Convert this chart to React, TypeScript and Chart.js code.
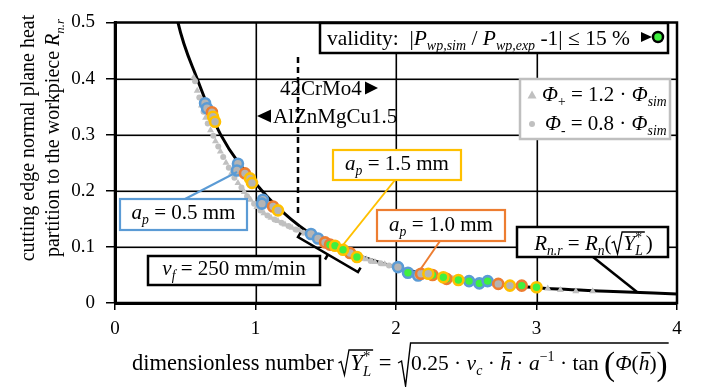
import React, { useEffect, useRef } from 'react';
import { Chart, registerables } from 'chart.js';
Chart.register(...registerables);

const SERIF = "'Liberation Serif', 'Times New Roman', serif";

// ---- data ----
const xTickLabels = ['0', '1', '2', '3', '4'];
const yTickLabels = ['0', '0.1', '0.2', '0.3', '0.4', '0.5'];
const xGridValues = [1, 2, 3];
const yGridValues = [0.1, 0.2, 0.3, 0.4];

const curveX = [0.42, 0.448, 0.584, 0.752, 1.046, 1.25, 1.5, 1.75, 2.0, 2.25, 2.5, 2.75, 3.0, 3.5, 4.0];
const curveY = [0.54, 0.5, 0.4, 0.3, 0.2, 0.15, 0.107, 0.083, 0.064, 0.05, 0.04, 0.033, 0.027, 0.021, 0.016];

const phiPlus: [number, number][] = [
  [0.56, 0.402], [0.585, 0.378], [0.615, 0.352], [0.645, 0.33], [0.68, 0.308], [0.715, 0.288],
  [0.75, 0.27], [0.79, 0.25], [0.83, 0.232], [0.875, 0.214], [0.92, 0.198], [0.965, 0.184],
  [1.01, 0.171], [1.06, 0.16], [1.11, 0.152], [1.16, 0.146], [1.21, 0.14], [1.26, 0.134],
  [1.31, 0.129], [1.79, 0.078], [1.85, 0.073], [1.92, 0.069], [1.98, 0.066],
  [3.08, 0.026], [3.17, 0.023], [3.28, 0.021], [3.4, 0.021],
];
const phiMinus: [number, number][] = [
  [0.57, 0.395], [0.6, 0.366], [0.63, 0.341], [0.66, 0.32], [0.7, 0.298], [0.735, 0.279],
  [0.77, 0.26], [0.81, 0.241], [0.85, 0.223], [0.9, 0.206], [0.94, 0.19], [0.99, 0.177],
  [1.035, 0.165], [1.085, 0.156], [1.135, 0.149], [1.185, 0.143], [1.235, 0.137], [1.285, 0.131],
  [1.34, 0.125], [1.76, 0.08], [1.82, 0.075], [1.89, 0.071], [1.95, 0.067], [2.4, 0.044], [2.7, 0.034],
];

const ap05Gray: [number, number][] = [
  [0.641, 0.356], [0.655, 0.347], [0.875, 0.248], [0.868, 0.236], [1.053, 0.184], [1.046, 0.177],
  [1.395, 0.123], [1.445, 0.115], [2.014, 0.064], [2.157, 0.049],
];
const ap05Green: [number, number][] = [[2.085, 0.054], [2.52, 0.039], [2.593, 0.035], [2.652, 0.039]];
const ap10Gray: [number, number][] = [
  [0.69, 0.34], [0.925, 0.231], [1.125, 0.172], [1.495, 0.108], [1.673, 0.089], [2.178, 0.052], [2.728, 0.034],
];
const ap10Green: [number, number][] = [[1.53, 0.104], [2.26, 0.05], [2.36, 0.043], [2.895, 0.031]];
const ap15Gray: [number, number][] = [
  [0.698, 0.332], [0.712, 0.323], [0.961, 0.222], [0.975, 0.214], [1.16, 0.165], [2.23, 0.052], [2.811, 0.031],
];
const ap15Green: [number, number][] = [
  [1.566, 0.102], [1.623, 0.095], [1.722, 0.082], [2.337, 0.046], [2.444, 0.041], [3.0, 0.028],
];

// ---- styles ----
const BLUE = '#5B9BD5';
const ORANGE = '#ED7D31';
const YELLOW = '#FFC000';
const FILL_GRAY = '#B4B4B4';
const GREEN = '#3FF03F';
const BAND_GRAY = '#C0C0C0';

type Run = { t: string; it?: boolean; pos?: 'sub' | 'sup'; bar?: boolean; sz?: number; dy?: number; noAdv?: boolean };

function fnt(size: number, it?: boolean) {
  return `${it ? 'italic ' : ''}${size}px ${SERIF}`;
}

function runWidth(ctx: CanvasRenderingContext2D, runs: Run[], size: number) {
  let w = 0;
  for (const r of runs) {
    const s = (r.sz ?? 1) * (r.pos ? size * 0.65 : size);
    ctx.font = fnt(s, r.it);
    if (!r.noAdv) w += ctx.measureText(r.t).width;
  }
  return w;
}

function drawRuns(ctx: CanvasRenderingContext2D, x: number, y: number, runs: Run[], size: number) {
  for (const r of runs) {
    const s = (r.sz ?? 1) * (r.pos ? size * 0.65 : size);
    ctx.font = fnt(s, r.it);
    const dy = r.pos === 'sub' ? size * 0.25 : r.pos === 'sup' ? -size * 0.4 : 0;
    ctx.fillText(r.t, x, y + dy + (r.dy ?? 0));
    const w = ctx.measureText(r.t).width;
    if (r.bar) {
      ctx.save();
      ctx.lineWidth = 1.5;
      ctx.beginPath();
      ctx.moveTo(x + w * 0.25, y - size * 0.8);
      ctx.lineTo(x + w + 1, y - size * 0.8);
      ctx.stroke();
      ctx.restore();
    }
    if (!r.noAdv) x += w;
  }
  return x;
}

function drawCentered(ctx: CanvasRenderingContext2D, cx: number, y: number, runs: Run[], size: number) {
  const w = runWidth(ctx, runs, size);
  return drawRuns(ctx, cx - w / 2, y, runs, size);
}

function box(ctx: CanvasRenderingContext2D, x1: number, y1: number, x2: number, y2: number, color: string, lw: number) {
  ctx.save();
  ctx.fillStyle = '#fff';
  ctx.fillRect(x1, y1, x2 - x1, y2 - y1);
  ctx.strokeStyle = color;
  ctx.lineWidth = lw;
  ctx.strokeRect(x1, y1, x2 - x1, y2 - y1);
  ctx.restore();
}

function seg(ctx: CanvasRenderingContext2D, pts: number[][], color: string, lw: number, dash?: number[]) {
  ctx.save();
  ctx.strokeStyle = color;
  ctx.lineWidth = lw;
  ctx.setLineDash(dash || []);
  ctx.beginPath();
  pts.forEach((p, i) => (i === 0 ? ctx.moveTo(p[0], p[1]) : ctx.lineTo(p[0], p[1])));
  ctx.stroke();
  ctx.restore();
}

function tri(ctx: CanvasRenderingContext2D, x: number, yc: number, w: number, h: number, dir: 1 | -1) {
  ctx.beginPath();
  if (dir === 1) {
    ctx.moveTo(x, yc - h / 2);
    ctx.lineTo(x + w, yc);
    ctx.lineTo(x, yc + h / 2);
  } else {
    ctx.moveTo(x + w, yc - h / 2);
    ctx.lineTo(x, yc);
    ctx.lineTo(x + w, yc + h / 2);
  }
  ctx.closePath();
  ctx.fill();
}

const gridPlugin = {
  id: 'gridLines',
  beforeDatasetsDraw(chart: any) {
    const ctx: CanvasRenderingContext2D = chart.ctx;
    const { left, right, top, bottom } = chart.chartArea;
    const xs = chart.scales.x;
    const ys = chart.scales.y;
    ctx.save();
    ctx.fillStyle = '#000';
    xGridValues.forEach((v) => {
      const px = Math.round(xs.getPixelForValue(v));
      ctx.fillRect(px - 0.5, top, 1.6, bottom - top);
    });
    yGridValues.forEach((v) => {
      const py = Math.round(ys.getPixelForValue(v));
      ctx.fillRect(left, py - 0.5, right - left, 1.6);
    });
    ctx.restore();
  },
};

const annotPlugin = {
  id: 'annot',
  afterDraw(chart: any) {
    const ctx: CanvasRenderingContext2D = chart.ctx;
    const { left, right, top, bottom } = chart.chartArea;
    ctx.save();
    ctx.textBaseline = 'alphabetic';
    ctx.textAlign = 'left';
    ctx.fillStyle = '#000';
    ctx.strokeStyle = '#000';

    // frame
    seg(ctx, [[left, bottom], [left, top], [right, top], [right, bottom], [left, bottom]], '#000', 2.5);

    // dashed separator + material labels
    seg(ctx, [[298, 57], [298, 213]], '#000', 2.5, [6, 4]);
    ctx.fillStyle = '#000';
    drawRuns(ctx, 280, 95, [{ t: '42CrMo4' }], 21);
    tri(ctx, 365, 88, 13, 13, 1);
    tri(ctx, 257, 116, 14, 13, -1);
    drawRuns(ctx, 273, 123, [{ t: 'AlZnMgCu1.5' }], 21);

    // validity box
    box(ctx, 320, 23, 668, 53, '#000', 2.5);
    ctx.fillStyle = '#000';
    drawRuns(ctx, 327, 45, [
      { t: 'validity:  |' },
      { t: 'P', it: true }, { t: 'wp,sim', it: true, pos: 'sub' },
      { t: ' / ' },
      { t: 'P', it: true }, { t: 'wp,exp', it: true, pos: 'sub' },
      { t: ' -1| \u2264 15 %' },
    ], 21.5);
    tri(ctx, 641, 37, 11, 10, 1);
    ctx.beginPath();
    ctx.arc(658, 37, 5, 0, Math.PI * 2);
    ctx.fillStyle = GREEN;
    ctx.fill();
    ctx.lineWidth = 2.5;
    ctx.strokeStyle = '#000';
    ctx.stroke();

    // legend box
    box(ctx, 520, 79, 670, 139, '#BFBFBF', 2.5);
    ctx.fillStyle = BAND_GRAY;
    ctx.beginPath();
    ctx.moveTo(532, 90.5); ctx.lineTo(536.5, 98.5); ctx.lineTo(527.5, 98.5); ctx.closePath(); ctx.fill();
    ctx.beginPath(); ctx.arc(532, 124, 3, 0, Math.PI * 2); ctx.fill();
    ctx.fillStyle = '#000';
    drawRuns(ctx, 542, 101, [
      { t: '\u03A6', it: true }, { t: '+', pos: 'sub' }, { t: ' = 1.2 \u00B7 ' },
      { t: '\u03A6', it: true }, { t: 'sim', it: true, pos: 'sub' },
    ], 21);
    drawRuns(ctx, 545, 130, [
      { t: '\u03A6', it: true }, { t: '-', pos: 'sub' }, { t: ' = 0.8 \u00B7 ' },
      { t: '\u03A6', it: true }, { t: 'sim', it: true, pos: 'sub' },
    ], 21);

    // a_p labels
    seg(ctx, [[185, 199], [237, 172]], BLUE, 2);
    box(ctx, 120, 199, 247, 230, BLUE, 2.2);
    ctx.fillStyle = '#000';
    drawCentered(ctx, 183.5, 219, [{ t: 'a', it: true }, { t: 'p', it: true, pos: 'sub' }, { t: ' = 0.5 mm' }], 21);

    seg(ctx, [[395, 180], [343, 245]], YELLOW, 2);
    box(ctx, 333, 150, 461, 180, YELLOW, 2.2);
    ctx.fillStyle = '#000';
    drawCentered(ctx, 397, 170, [{ t: 'a', it: true }, { t: 'p', it: true, pos: 'sub' }, { t: ' = 1.5 mm' }], 21);

    seg(ctx, [[440, 241], [420, 270]], ORANGE, 2);
    box(ctx, 377, 210, 505, 241, ORANGE, 2.2);
    ctx.fillStyle = '#000';
    drawCentered(ctx, 441, 231, [{ t: 'a', it: true }, { t: 'p', it: true, pos: 'sub' }, { t: ' = 1.0 mm' }], 21);

    // v_f bracket + box
    seg(ctx, [[300.6, 232.7], [298, 237], [358, 272], [360.6, 267.7]], '#000', 2.5);
    seg(ctx, [[328, 254.5], [325, 259.5]], '#000', 2.5);
    box(ctx, 148, 256, 320, 285, '#000', 2.5);
    ctx.fillStyle = '#000';
    drawCentered(ctx, 234, 275, [{ t: 'v', it: true }, { t: 'f', it: true, pos: 'sub' }, { t: ' = 250 mm/min' }], 21);

    // R_n.r box
    seg(ctx, [[593, 257], [637, 292]], '#000', 2.5);
    box(ctx, 517, 227, 668, 257, '#000', 2.5);
    ctx.fillStyle = '#000';
    {
      const size = 21;
      const r1: Run[] = [{ t: 'R', it: true }, { t: 'n.r', it: true, pos: 'sub' }, { t: ' = ' }, { t: 'R', it: true }, { t: 'n', it: true, pos: 'sub' }, { t: '(' }];
      const r2: Run[] = [{ t: 'Y', it: true }, { t: '*', pos: 'sup', noAdv: true, dy: 0 }, { t: 'L', it: true, pos: 'sub' }];
      const r3: Run[] = [{ t: ')' }];
      const total = runWidth(ctx, r1, size) + 11 + runWidth(ctx, r2, size) + 2 + runWidth(ctx, r3, size);
      let x = 592.5 - total / 2;
      const yb = 250;
      x = drawRuns(ctx, x, yb, r1, size);
      const rx = x;
      x += 11;
      const x2 = drawRuns(ctx, x + 1, yb, r2, size) + 1;
      seg(ctx, [[rx, yb - 7], [rx + 2.5, yb - 8.5], [rx + 6, yb + 4], [rx + 10.5, yb - 18], [x2 + 1, yb - 18]], '#000', 1.3);
      drawRuns(ctx, x2 + 2, yb, r3, size);
    }

    // X axis title
    {
      const size = 22.5;
      const yb = 370;
      let x = drawRuns(ctx, 132, yb, [{ t: 'dimensionless number ' }], size);
      const rx = x - 1;
      x = rx + 11;
      const xe = drawRuns(ctx, x + 1, yb, [{ t: 'Y', it: true }, { t: '*', pos: 'sup', noAdv: true }, { t: 'L', it: true, pos: 'sub' }], size) + 2;
      seg(ctx, [[rx, yb - 7], [rx + 2.5, yb - 8.5], [rx + 6, yb + 5], [rx + 10.5, yb - 20], [xe, yb - 20]], '#000', 1.3);
      x = drawRuns(ctx, xe, yb, [{ t: ' = ' }], size);
      const bx = x + 2;
      x = bx + 12;
      const content: Run[] = [
        { t: '0.25 \u00B7 ' }, { t: 'v', it: true }, { t: 'c', it: true, pos: 'sub' }, { t: ' \u00B7 ' },
        { t: 'h', it: true, bar: true }, { t: ' \u00B7 ' }, { t: 'a', it: true }, { t: '\u22121', pos: 'sup' },
        { t: ' \u00B7 tan ' }, { t: '(', sz: 1.55, dy: 5 }, { t: '\u03A6', it: true }, { t: '(' },
        { t: 'h', it: true, bar: true }, { t: ')' }, { t: ')', sz: 1.55, dy: 5 },
      ];
      const ce = drawRuns(ctx, x, yb, content, 21.5);
      seg(ctx, [[bx - 1, yb - 7], [bx + 2.5, yb - 9], [bx + 6.5, yb + 16], [bx + 11.5, yb - 27], [ce + 1, yb - 27]], '#000', 1.4);
    }

    // Y axis title
    {
      const size = 20;
      ctx.save();
      ctx.translate(0, 138);
      ctx.rotate(-Math.PI / 2);
      drawCentered(ctx, 0, 34, [{ t: 'cutting edge normal plane heat' }], size);
      drawCentered(ctx, 0, 59, [{ t: 'partition to the workpiece ' }, { t: 'R', it: true }, { t: 'n.r', it: true, pos: 'sub' }], size);
      ctx.restore();
    }

    ctx.restore();
  },
};

function pts(a: [number, number][]) {
  return a.map(([x, y]) => ({ x, y }));
}

function marker(label: string, data: [number, number][], stroke: string, fill: string, order: number) {
  return {
    type: 'scatter' as const,
    label,
    data: pts(data),
    pointRadius: 5,
    pointBorderWidth: 2.6,
    pointBorderColor: stroke,
    pointBackgroundColor: fill,
    borderColor: stroke,
    backgroundColor: fill,
    order,
  };
}

export default function App() {
  const ref = useRef<HTMLCanvasElement>(null);
  useEffect(() => {
    if (!ref.current) return;
    const chart = new Chart(ref.current, {
      type: 'scatter',
      data: {
        datasets: [
          marker('ap 1.5 valid', ap15Green, YELLOW, GREEN, 0),
          marker('ap 1.5', ap15Gray, YELLOW, FILL_GRAY, 1),
          marker('ap 1.0 valid', ap10Green, ORANGE, GREEN, 2),
          marker('ap 1.0', ap10Gray, ORANGE, FILL_GRAY, 3),
          marker('ap 0.5 valid', ap05Green, BLUE, GREEN, 4),
          marker('ap 0.5', ap05Gray, BLUE, FILL_GRAY, 5),
          {
            type: 'scatter' as const,
            label: 'phi-',
            data: pts(phiMinus),
            pointRadius: 3,
            pointBorderWidth: 0,
            pointBackgroundColor: BAND_GRAY,
            order: 6,
          },
          {
            type: 'scatter' as const,
            label: 'phi+',
            data: pts(phiPlus),
            pointStyle: 'triangle',
            pointRadius: 4,
            pointBorderWidth: 0,
            pointBackgroundColor: BAND_GRAY,
            order: 7,
          },
          {
            type: 'line' as const,
            label: 'Rn',
            data: curveX.map((x, i) => ({ x, y: curveY[i] })),
            borderColor: '#000',
            borderWidth: 3,
            pointRadius: 0,
            cubicInterpolationMode: 'monotone',
            fill: false,
            order: 8,
          },
        ] as any,
      },
      options: {
        animation: false,
        responsive: false,
        devicePixelRatio: 1,
        layout: { padding: { top: 15, right: 30, left: 0, bottom: 0 } },
        plugins: { legend: { display: false }, tooltip: { enabled: false } },
        scales: {
          x: {
            type: 'linear',
            min: 0,
            max: 4,
            ticks: {
              stepSize: 1,
              color: '#000',
              padding: 8,
              font: { family: SERIF, size: 19 },
              callback: (_v: any, i: number) => xTickLabels[i],
            },
            grid: { display: true, drawOnChartArea: false, color: '#000000', lineWidth: 1.5, tickLength: 7, tickColor: '#000000' },
            border: { color: '#000', width: 3 },
            afterFit: (s: any) => { s.height = 84; },
          },
          y: {
            type: 'linear',
            min: 0,
            max: 0.5,
            ticks: {
              stepSize: 0.1,
              color: '#000',
              padding: 11,
              font: { family: SERIF, size: 19 },
              callback: (_v: any, i: number) => yTickLabels[i],
            },
            grid: { display: true, drawOnChartArea: false, color: '#000000', lineWidth: 1.5, tickLength: 9, tickColor: '#000000' },
            border: { color: '#000', width: 3 },
            afterFit: (s: any) => { s.width = 115; },
          },
        },
      } as any,
      plugins: [gridPlugin, annotPlugin],
    });
    return () => chart.destroy();
  }, []);
  return (
    <div style={{ position: 'absolute', left: 0, top: 0, width: 707, height: 387, background: '#fff' }}>
      <canvas ref={ref} width={707} height={387} style={{ display: 'block' }} />
    </div>
  );
}
